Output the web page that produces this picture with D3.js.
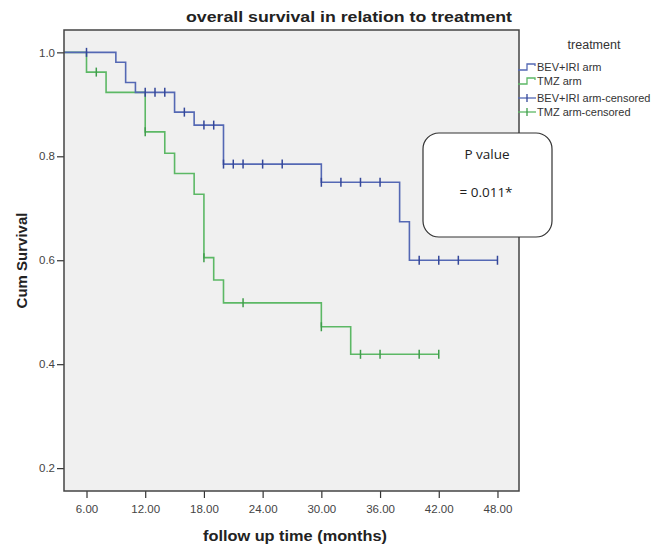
<!DOCTYPE html>
<html>
<head>
<meta charset="utf-8">
<script src="https://cdn.jsdelivr.net/npm/d3@7"></script>
<style>
  body { margin: 0; background: #fff; }
  text { font-family: "Liberation Sans", Arial, sans-serif; }
</style>
</head>
<body>
<svg id="km" width="668" height="547"></svg>
<script>
// survival steps
const bevTime = [0, 9, 10, 11, 15, 17, 20, 30, 38, 39, 48];
const bevSurv = [1.0, 0.981, 0.942, 0.923, 0.885, 0.86, 0.785, 0.75, 0.674, 0.60, 0.60];
const bevCensored = [6, 12, 13, 14, 16, 18, 19, 20, 21, 22, 24, 26, 30, 32, 34, 36, 40, 42, 44, 48];

const tmzTime = [0, 6, 8, 12, 14, 15, 17, 18, 19, 20, 30, 33, 42];
const tmzSurv = [1.0, 0.962, 0.923, 0.847, 0.806, 0.767, 0.727, 0.605, 0.562, 0.518, 0.472, 0.419, 0.419];
const tmzCensored = [7, 12, 18, 22, 30, 34, 36, 40, 42];

const xTicks = [6, 12, 18, 24, 30, 36, 42, 48];
const yTicks = [0.2, 0.4, 0.6, 0.8, 1.0];
const legendLabels = ["BEV+IRI arm", "TMZ arm", "BEV+IRI arm-censored", "TMZ arm-censored"];

const blue = "#5468b4", blueDark = "#34479a";
const green = "#5cb865", greenDark = "#3f9d4b";

const svg = d3.select("#km");
const plot = { left: 64, right: 519, top: 30, bottom: 491 };

const x = d3.scaleLinear().domain([3.7, 50.2]).range([plot.left, plot.right]);
const y = d3.scaleLinear().domain([0.156, 1.043]).range([plot.bottom, plot.top]);

// title
svg.append("text")
    .attr("x", 349).attr("y", 22)
    .attr("text-anchor", "middle")
    .attr("textLength", 326).attr("lengthAdjust", "spacingAndGlyphs")
    .style("font-size", "15px").style("font-weight", "bold").style("fill", "#222")
    .text("overall survival in relation to treatment");

// plot background
svg.append("rect")
    .attr("x", plot.left).attr("y", plot.top)
    .attr("width", plot.right - plot.left).attr("height", plot.bottom - plot.top)
    .style("fill", "#f0f0f0");

svg.append("clipPath").attr("id", "clip")
  .append("rect")
    .attr("x", plot.left).attr("y", plot.top)
    .attr("width", plot.right - plot.left).attr("height", plot.bottom - plot.top);

// axes
const xAxis = svg.append("g")
    .attr("transform", "translate(0," + plot.bottom + ")")
    .call(d3.axisBottom(x).tickValues(xTicks).tickFormat(d3.format(".2f")).tickSize(7).tickSizeOuter(0));
const yAxis = svg.append("g")
    .attr("transform", "translate(" + plot.left + ",0)")
    .call(d3.axisLeft(y).tickValues(yTicks).tickFormat(d3.format(".1f")).tickSize(7).tickSizeOuter(0));

[xAxis, yAxis].forEach(a => {
    a.select(".domain").remove();
    a.selectAll(".tick line").style("stroke", "#333").style("stroke-width", 1.2);
    a.selectAll(".tick text")
        .style("font-family", "'Liberation Sans', Arial, sans-serif")
        .style("font-size", "11.5px").style("fill", "#444");
});
xAxis.selectAll(".tick text").attr("dy", "1.05em");
yAxis.selectAll(".tick text").attr("x", -9);

// curves
const g = svg.append("g").attr("clip-path", "url(#clip)");
const line = d3.line()
    .x(d => x(d[0]))
    .y(d => y(d[1]))
    .curve(d3.curveStepAfter);

function survAt(times, surv, t) {
    const i = d3.bisectRight(times, t) - 1;
    return surv[Math.max(0, i)];
}

function drawArm(times, surv, censored, col, dark) {
    g.append("path")
        .datum(times.map((t, i) => [t, surv[i]]))
        .attr("d", line)
        .style("fill", "none").style("stroke", col).style("stroke-width", 1.6);
    g.selectAll(null)
        .data(censored)
        .enter()
        .append("line")
            .attr("x1", d => x(d)).attr("x2", d => x(d))
            .attr("y1", d => y(survAt(times, surv, d)) - 4.5)
            .attr("y2", d => y(survAt(times, surv, d)) + 4.5)
            .style("stroke", dark).style("stroke-width", 1.5);
}

drawArm(tmzTime, tmzSurv, tmzCensored, green, greenDark);
drawArm(bevTime, bevSurv, bevCensored, blue, blueDark);

// frame
svg.append("rect")
    .attr("x", plot.left).attr("y", plot.top)
    .attr("width", plot.right - plot.left).attr("height", plot.bottom - plot.top)
    .style("fill", "none").style("stroke", "#444").style("stroke-width", 1.5);

// axis titles
svg.append("text")
    .attr("x", 295).attr("y", 541)
    .attr("text-anchor", "middle")
    .attr("textLength", 184).attr("lengthAdjust", "spacingAndGlyphs")
    .style("font-size", "15px").style("font-weight", "bold").style("fill", "#222")
    .text("follow up time (months)");
svg.append("text")
    .attr("transform", "translate(27," + ((plot.top + plot.bottom) / 2) + ") rotate(-90)")
    .attr("text-anchor", "middle")
    .style("font-size", "15px").style("font-weight", "bold").style("fill", "#222")
    .text("Cum Survival");

// legend
const legend = svg.append("g").attr("transform", "translate(517,0)");
legend.append("text")
    .attr("x", 77).attr("y", 49)
    .attr("text-anchor", "middle")
    .style("font-size", "12.5px").style("fill", "#333")
    .text("treatment");

const legendRows = [67, 81, 98, 112];
const legendColors = [blue, green, blueDark, greenDark];
legendLabels.forEach((lab, i) => {
    const ly = legendRows[i];
    if (i < 2) {
        legend.append("path")
            .attr("d", "M1," + (ly + 3) + "H10V" + (ly - 3) + "H18V" + (ly - 1))
            .style("fill", "none").style("stroke", legendColors[i]).style("stroke-width", 1.3);
    } else {
        legend.append("line")
            .attr("x1", 1).attr("x2", 19).attr("y1", ly).attr("y2", ly)
            .style("stroke", i == 2 ? blue : green).style("stroke-width", 1.3);
        legend.append("line")
            .attr("x1", 10).attr("x2", 10).attr("y1", ly - 4).attr("y2", ly + 4)
            .style("stroke", legendColors[i]).style("stroke-width", 1.3);
    }
    legend.append("text")
        .attr("x", 20).attr("y", ly + 4)
        .style("font-size", "11px").style("fill", "#333")
        .text(lab);
});

// p value box
const box = svg.append("g");
box.append("rect")
    .attr("x", 423).attr("y", 133).attr("width", 129).attr("height", 104)
    .attr("rx", 16).attr("ry", 16)
    .style("fill", "#fff").style("stroke", "#333").style("stroke-width", 1.2);
box.append("text")
    .attr("x", 487).attr("y", 159)
    .attr("text-anchor", "middle")
    .style("font-family", "'Open Sans', sans-serif")
    .style("font-size", "13.5px").style("fill", "#222")
    .text("P value");
box.append("text")
    .attr("x", 486).attr("y", 197)
    .attr("text-anchor", "middle")
    .style("font-family", "'Open Sans', sans-serif")
    .style("font-size", "13.5px").style("fill", "#222")
    .text("=  0.011*");
</script>
</body>
</html>
